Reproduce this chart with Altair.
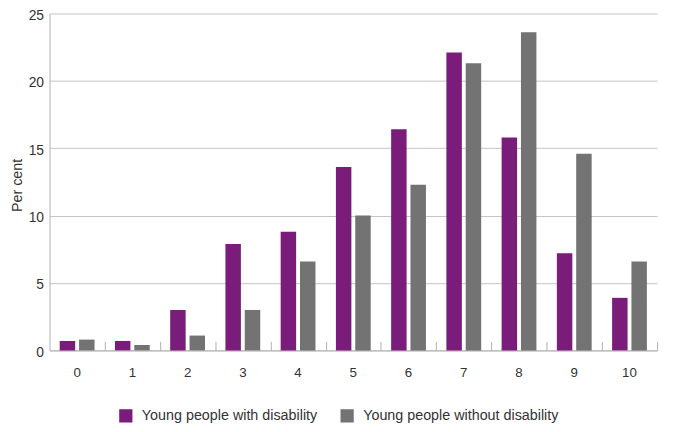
import altair as alt
import pandas as pd

categories = ["0", "1", "2", "3", "4", "5", "6", "7", "8", "9", "10"]
with_disability = [0.7, 0.7, 3.0, 7.9, 8.8, 13.6, 16.4, 22.1, 15.8, 7.2, 3.9]
without_disability = [0.8, 0.4, 1.1, 3.0, 6.6, 10.0, 12.3, 21.3, 23.6, 14.6, 6.6]
series = ["Young people with disability", "Young people without disability"]
colors = ["#7a1c7a", "#737373"]

rows = []
for i, c in enumerate(categories):
    rows.append({"cat": c, "series": series[0], "value": with_disability[i]})
    rows.append({"cat": c, "series": series[1], "value": without_disability[i]})
df = pd.DataFrame(rows)

W, H = 615, 341
FONT = "Liberation Sans"
step = W / len(categories)
xscale = alt.Scale(domain=categories, paddingInner=0.37, paddingOuter=0.185)
yscale = alt.Scale(domain=[0, 25])

bars = alt.Chart(df).mark_bar().encode(
    x=alt.X("cat:O", scale=xscale, sort=categories, title=None,
            axis=alt.Axis(orient="bottom", labelAngle=0, ticks=False, labelPadding=15, domainColor="#b0b0b0",
                          labelFontSize=13.5, labelColor="#333333", labelFont=FONT,
                          grid=False)),
    xOffset=alt.XOffset("series:N", sort=series, scale=alt.Scale(paddingInner=0.2, paddingOuter=0)),
    y=alt.Y("value:Q", scale=yscale, title="Per cent",
            axis=alt.Axis(values=[0, 5, 10, 15, 20, 25], ticks=False, labelPadding=6, labelOffset=2,
                          gridColor="#c4c4c4", domainColor="#b0b0b0",
                          labelFontSize=14, labelColor="#333333", labelFont=FONT,
                          titleFontSize=14.5, titleFont=FONT, titleFontWeight="normal",
                          titleColor="#333333", titlePadding=4, titleY=H / 2 + 3)),
    color=alt.Color("series:N", sort=series, scale=alt.Scale(domain=series, range=colors),
                    legend=alt.Legend(title=None, orient="none", direction="horizontal",
                                      legendX=70, legendY=400, symbolType="square",
                                      symbolSize=180, symbolStrokeWidth=0, labelFontSize=14.5,
                                      labelFont=FONT, labelColor="#333333", labelLimit=400,
                                      columnPadding=22, labelOffset=9)),
)

ticks = alt.Chart(df).mark_bar(opacity=0).encode(
    x=alt.X("cat:O", scale=xscale, sort=categories, title=None,
            axis=alt.Axis(orient="top", offset=-H, labels=False, domain=False, grid=False,
                          ticks=True, tickOffset=step / 2, tickSize=9, tickColor="#b0b0b0")),
    y=alt.Y("value:Q", scale=yscale),
)

chart = alt.layer(bars, ticks).resolve_axis(x="independent").properties(
    width=W, height=H,
    autosize=alt.AutoSizeParams(type="none"),
    padding={"left": 42, "top": 3, "right": 10, "bottom": 75},
).configure_view(stroke=None)

chart.save("out.html", embed_options={"renderer": "svg", "actions": False})
